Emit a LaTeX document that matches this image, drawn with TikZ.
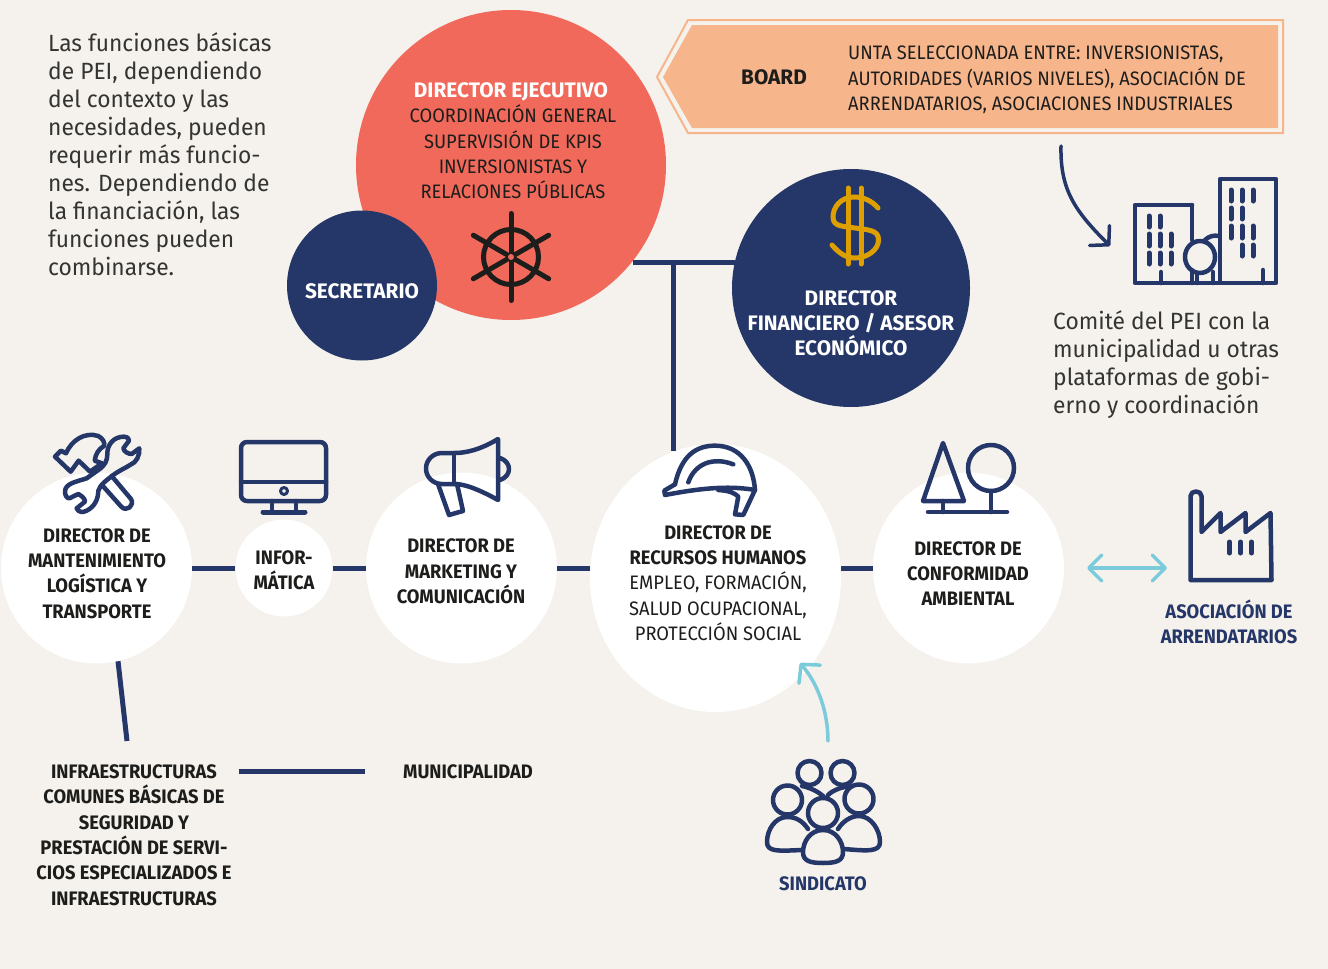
\documentclass[tikz,border=0pt]{standalone}
\usepackage{fontspec}
\setmainfont[FakeStretch=0.94]{Fira Sans}
\newfontfamily\titlef[FakeStretch=0.99]{Fira Sans}
\newfontfamily\paraf[FakeStretch=0.97]{Fira Sans}
\usetikzlibrary{arrows.meta,shapes.geometric}
\definecolor{bg}{HTML}{F5F2ED}
\definecolor{navy}{HTML}{253768}
\definecolor{coral}{HTML}{F0695A}
\definecolor{peach}{HTML}{F7B58C}
\definecolor{gold}{HTML}{DDA000}
\definecolor{sky}{HTML}{7BCBDA}
\definecolor{ink}{HTML}{1D1D1B}
\tikzset{
  disc/.style={circle,inner sep=0pt,minimum size=#1},
  whitedisc/.style={disc=#1,fill=white},
  navydisc/.style={disc=#1,fill=navy},
  para/.style={align=left,anchor=west,inner sep=0pt,text=ink!90,font=\paraf\fontsize{23.5}{28}\selectfont},
  lab/.style={align=center,inner sep=0pt,text=ink,font=\fontsize{19.5}{25.3}\selectfont},
  blab/.style={lab,font=\fontsize{19.5}{25.3}\selectfont\bfseries},
  wlab/.style={blab,text=white},
  tlab/.style={blab,font=\titlef\fontsize{21}{25}\selectfont\bfseries},
  nlab/.style={blab,text=navy},
  link/.style={draw=navy,line width=5},
  iconline/.style={draw=navy,line width=4.5,line cap=round,line join=round},
  curvearrow/.style={line width=#1,line cap=round,-{Straight Barb[length=13pt,width=28pt,round]}}
}
\begin{document}
\begin{tikzpicture}[x=1pt,y=-1pt]
\useasboundingbox (0,0) rectangle (1328,969);
\fill[bg] (0,0) rectangle (1328,969);

% discs
\node[disc=310,fill=coral] (ejec) at (511,165) {};
\node[navydisc=150] (secr) at (362,285.5) {};
\node[navydisc=238] (fin) at (851,288) {};
\node[whitedisc=191] (mant) at (96.5,568) {};
\node[whitedisc=97] (info) at (284,568) {};
\node[whitedisc=191] (mark) at (461.5,568) {};
\node[ellipse,inner sep=0pt,minimum width=251,minimum height=268,fill=white] (rrhh) at (715.5,578) {};
\node[whitedisc=191] (conf) at (968.5,568) {};

% left and right paragraphs
\node[para] (intro) at (48,154) {Las funciones básicas\\de PEI, dependiendo\\del contexto y las\\necesidades, pueden\\requerir más funcio-\\nes. Dependiendo de\\la financiación, las\\funciones pueden\\combinarse.};
\node[para] (comite) at (1053,365) {Comité del PEI con la\\municipalidad u otras\\plataformas de gobi-\\erno y coordinación};

% labels
\node[tlab,text=white] (ejectitle) at (511,92) {DIRECTOR EJECUTIVO};
\node[lab] (ejecbody) at (513,152) {COORDINACIÓN GENERAL\\SUPERVISIÓN DE KPIS\\INVERSIONISTAS Y\\RELACIONES PÚBLICAS};
\node[tlab,text=white] (secrlab) at (362,291) {SECRETARIO};
\node[tlab,text=white] (finlab) at (851,323) {DIRECTOR\\FINANCIERO / ASESOR\\ECONÓMICO};
\node[blab] (mantlab) at (97,573.5) {DIRECTOR DE\\MANTENIMIENTO\\LOGÍSTICA Y\\TRANSPORTE};
\node[blab] (infolab) at (284,570.5) {INFOR-\\MÁTICA};
\node[blab] (marklab) at (461,571.5) {DIRECTOR DE\\MARKETING Y\\COMUNICACIÓN};
\node[lab] (rrhhlab) at (718,583) {\textbf{DIRECTOR DE}\\\textbf{RECURSOS HUMANOS}\\EMPLEO, FORMACIÓN,\\SALUD OCUPACIONAL,\\PROTECCIÓN SOCIAL};
\node[blab] (conflab) at (968,573.5) {DIRECTOR DE\\CONFORMIDAD\\AMBIENTAL};
\node[nlab] (asoc) at (1229,622) {ASOCIACIÓN DE\\ARRENDATARIOS};
\node[blab] (infra) at (134,835) {INFRAESTRUCTURAS\\COMUNES BÁSICAS DE\\SEGURIDAD Y\\PRESTACIÓN DE SERVI-\\CIOS ESPECIALIZADOS E\\INFRAESTRUCTURAS};
\node[blab] (muni) at (468,771.5) {MUNICIPALIDAD};
\node[nlab] (sind) at (823,883.5) {SINDICATO};

% board banner
\draw[peach,line width=2] (688,20) -- (657,77) -- (688,133) -- (1283,133) -- (1283,20) -- cycle;
\fill[peach] (692,25) -- (663,77) -- (692,128) -- (1278,128) -- (1278,25) -- cycle;
\node[tlab] (board) at (774,77) {BOARD};
\node[lab,anchor=west,align=left] (boardtxt) at (848,80) {UNTA SELECCIONADA ENTRE: INVERSIONISTAS,\\AUTORIDADES (VARIOS NIVELES), ASOCIACIÓN DE\\ARRENDATARIOS, ASOCIACIONES INDUSTRIALES};

% connectors
\coordinate (junction) at (673,262);
\coordinate (infratop) at (127,741);
\draw[link] (ejec.-38.7 |- junction) -- (fin.167.4 |- junction);
\draw[link] (junction) -- (junction |- rrhh.108);
\draw[link] (mant) -- (info);
\draw[link] (info) -- (mark);
\draw[link] (mark.east) -- (mark.east -| rrhh.west);
\draw[link] (conf.west -| rrhh.east) -- (conf.west);
\draw[link] (mant.-77) -- (infratop);
\draw[link,shorten <=7,shorten >=38] (infra.east |- muni.west) -- (muni.west);

% arrows
\coordinate (a1s) at (1061,146);
\coordinate (a1e) at (1110,246);
\coordinate (a2s) at (1087,568);
\coordinate (a2e) at (1167,568);
\coordinate (a3s) at (828,741);
\coordinate (a3e) at (800,663);
\draw[navy,curvearrow=3.5] (a1s) .. controls (1060,190) and (1075,211) .. (a1e);
\draw[sky,line width=3.5,line cap=round,{Straight Barb[length=13pt,width=26pt,round]}-{Straight Barb[length=13pt,width=26pt,round]}] (a2s) -- (a2e);
\draw[sky,curvearrow=3.5] (a3s) .. controls (828,712) and (818,684) .. (a3e);

% helm wheel
\begin{scope}[ink,line width=5,line cap=round]
\draw (511,257) circle[radius=27.5];
\foreach \a in {90,30,-30} \draw (511,257) ++(\a:43.5) -- ++(\a+180:87);
\fill[coral] (511,257) circle[radius=3];
\end{scope}

% dollar
\begin{scope}[gold,line width=5,line cap=round,xshift=-2pt]
\draw (850,188) -- (850,264);
\draw (863,188) -- (863,264);
\draw (880,208) .. controls (874,201) and (866,197) .. (856,197) .. controls (843,197) and (835,207) .. (835,217) .. controls (835,227) and (845,226) .. (857,228) .. controls (871,230) and (880.5,230) .. (880.5,240) .. controls (880.5,250) and (869,258) .. (857,258) .. controls (847,258) and (840,252) .. (834,245);
\end{scope}

% buildings
\begin{scope}[iconline,xshift=-3pt]
\draw (1195,205) -- (1138,205) -- (1138,283) -- (1195,283);
\draw (1195,205) -- (1195,240);
\draw (1195,270) -- (1195,283);
\draw (1223,179) rectangle (1279,283);
\draw (1164,272) -- (1164,283);
\draw (1266,270) -- (1266,283);
\foreach \x/\a/\b in {1152/216/227,1163/216/227,1152/234/246,1163/234/246,1174/234/246,1152/253/264,1163/253/264,1174/253/264,
  1234/190/201,1245/190/201,1256/190/201,1234/208/219,1245/208/219,1234/226/238,1245/226/238,1256/226/238,1245/245/256,1256/245/256}
  \draw[line width=5] (\x,\a) -- (\x,\b);
\draw (1203,257) ellipse[x radius=15,y radius=16];
\draw (1208,240) .. controls (1212,236) and (1217,235) .. (1222,236);
\draw (1200,273) -- (1200,283);
\draw (1216,272) -- (1216,283);
\draw (1195,283) -- (1223,283);
\end{scope}

% tools
\begin{scope}[shift={(30,420)},x=.3333pt,y=-.3333pt,iconline]
\draw (282,50) .. controls (250,50) and (232,75) .. (232,100) .. controls (232,125) and (225,135) .. (205,150) -- (170,175) .. controls (140,185) and (105,190) .. (105,215) .. controls (105,225) and (110,235) .. (118,235) -- (145,222) .. controls (155,228) and (165,235) .. (165,245) -- (140,265) .. controls (145,278) and (160,278) .. (170,272) .. controls (195,260) and (205,235) .. (205,212) .. controls (210,195) and (230,180) .. (250,165) .. controls (270,150) and (285,145) .. (300,135) .. controls (320,128) and (330,105) .. (328,85) -- (305,102) .. controls (295,102) and (282,95) .. (280,85) -- (297,62) .. controls (295,52) and (288,50) .. (282,50) -- cycle;
\draw (75,110) -- (93,92) -- (108,100) .. controls (125,60) and (165,35) .. (205,48) .. controls (218,55) and (226,68) .. (222,78) .. controls (205,88) and (197,102) .. (194,122) -- (216,130) -- (180,155) -- (146,122) -- (122,155) -- cycle;
\draw (245,168) -- (303,237) .. controls (315,255) and (290,280) .. (272,258) -- (216,195);
\end{scope}

% monitor
\begin{scope}[iconline]
\draw[rounded corners=6] (241,442) rectangle (326,501);
\draw (241,482) -- (326,482);
\draw[line width=3] (284,491) circle[radius=3.5];
\draw (272,501) -- (272,512);
\draw (296,501) -- (296,512);
\draw[line width=5] (263,512) -- (305,512);
\end{scope}

% megaphone
\begin{scope}[iconline]
\draw (498,439) .. controls (480,450) and (465,453) .. (455,453) -- (442,453) .. controls (433,453) and (426,460) .. (426,468.5) .. controls (426,477) and (433,484) .. (442,484) -- (455,484) .. controls (465,484) and (480,490) .. (498,500) -- cycle;
\draw (454,453) -- (454,484);
\draw (500,458) .. controls (512,462) and (512,476) .. (500,480);
\draw (438,484) -- (449,515) -- (463,511) -- (457,484);
\end{scope}

% helmet
\begin{scope}[shift={(410,425)},x=.3333pt,y=-.3333pt,iconline]
\draw (795,178) .. controls (815,90) and (860,62) .. (915,62) .. controls (990,62) and (1030,120) .. (1035,195);
\draw (1035,195) .. controls (950,180) and (860,192) .. (765,210) -- (763,197) -- (795,178);
\draw (835,172) .. controls (855,115) and (910,95) .. (970,118);
\draw (925,195) .. controls (960,197) and (975,205) .. (985,215) -- (975,268) -- (1000,270) -- (1035,195);
\end{scope}

% trees
\begin{scope}[iconline]
\draw (943,443) -- (923,501) -- (964,501) -- cycle;
\draw (943,501) -- (943,512);
\draw (928,512) -- (1007,512);
\draw (991,468) circle[radius=23];
\draw (991,491) -- (991,512);
\end{scope}

% factory
\begin{scope}[iconline,xshift=-1.5pt]
\draw (1192,580) -- (1192,496) .. controls (1192,490) and (1203,490) .. (1203,496) -- (1203,532) -- (1222,513) -- (1222,532) -- (1247,513) -- (1247,532) -- (1272,513) -- (1273,580) -- cycle;
\draw[line width=5] (1231,542) -- (1231,553);
\draw[line width=5] (1242,542) -- (1242,553);
\draw[line width=5] (1253,542) -- (1253,553);
\end{scope}

% people
\begin{scope}[iconline]
\draw (809.5,773) circle[radius=12];
\draw (842.5,773) circle[radius=12];
\draw (802,786) .. controls (812,788) and (820,793) .. (824,797);
\draw (828,795) .. controls (833,790) and (842,787) .. (850,786);
\draw (787.5,800) circle[radius=14.5];
\draw (859,799) circle[radius=14.5];
\draw (823,813) circle[radius=15];
\draw (808,829) .. controls (802,820) and (795,817) .. (787,817) .. controls (775,817) and (767,830) .. (767,842) .. controls (767,852) and (778,851) .. (802,850);
\draw (838,829) .. controls (843,821) and (851,816) .. (859,816) .. controls (871,816) and (880,830) .. (880,842) .. controls (880,852) and (868,851) .. (844,849);
\draw (823,830) .. controls (810,830) and (803,842) .. (803,852) .. controls (803,861) and (810,863) .. (823,863) .. controls (836,863) and (843,861) .. (843,852) .. controls (843,842) and (836,830) .. (823,830);
\end{scope}
\end{tikzpicture}
\end{document}
